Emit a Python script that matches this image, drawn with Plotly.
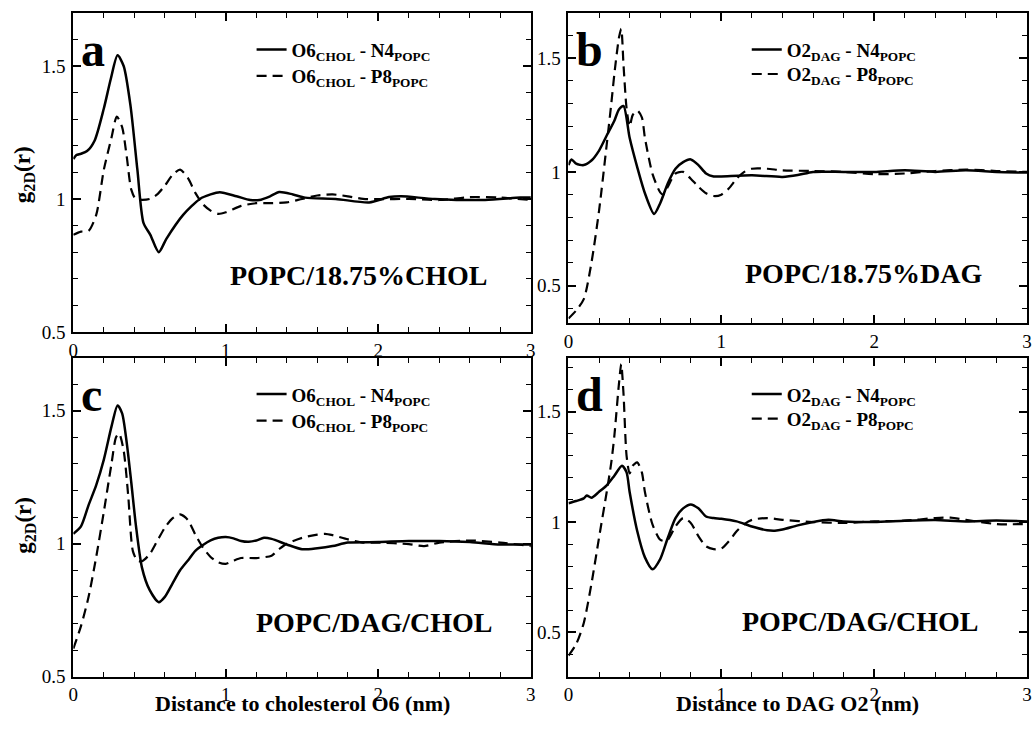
import plotly.graph_objects as go

# ---- g2D(r) data, read per panel ----
# Panel a: POPC/18.75%CHOL
r_a_n4 = [0.0, 0.02, 0.05, 0.09, 0.14, 0.2, 0.245, 0.29, 0.33, 0.375, 0.42, 0.46, 0.505, 0.56, 0.61,
          0.72, 0.83, 0.9, 0.96, 1.07, 1.16, 1.22, 1.29, 1.35, 1.44, 1.52, 1.72, 1.94, 2.07, 2.15,
          2.37, 2.7, 2.93, 3.0]
g_a_n4 = [1.15, 1.165, 1.17, 1.18, 1.22, 1.34, 1.45, 1.54, 1.5, 1.35, 1.11, 0.91, 0.865, 0.8, 0.85,
          0.94, 1.0, 1.017, 1.025, 1.01, 0.996, 0.996, 1.01, 1.026, 1.017, 1.005, 1.0, 0.987, 1.007,
          1.01, 1.0, 0.996, 1.005, 1.005]
r_a_p8 = [0.0, 0.05, 0.1, 0.15, 0.2, 0.25, 0.285, 0.32, 0.35, 0.38, 0.41, 0.5, 0.55, 0.6, 0.65,
          0.7, 0.75, 0.8, 0.85, 0.9, 0.95, 1.0, 1.1, 1.2, 1.3, 1.4, 1.5, 1.6, 1.7, 1.8, 1.9, 2.0,
          2.2, 2.4, 2.6, 2.8, 3.0]
g_a_p8 = [0.865, 0.877, 0.88, 0.94, 1.11, 1.23, 1.31, 1.27, 1.16, 1.035, 1.0, 1.0, 1.017, 1.05,
          1.09, 1.11, 1.08, 1.023, 0.98, 0.956, 0.944, 0.95, 0.974, 0.984, 0.984, 0.987, 1.0, 1.013,
          1.017, 1.01, 1.0, 0.999, 1.0, 0.996, 1.007, 1.005, 0.996]

# Panel b: POPC/18.75%DAG
r_b_n4 = [0.0, 0.02, 0.05, 0.1, 0.15, 0.2, 0.25, 0.3, 0.33, 0.36, 0.4, 0.45, 0.5, 0.56, 0.6, 0.65,
          0.7, 0.75, 0.8, 0.85, 0.9, 0.95, 1.0, 1.2, 1.4, 1.5, 1.6, 1.8, 2.0, 2.2, 2.4, 2.6, 2.8, 3.0]
g_b_n4 = [1.03, 1.055, 1.036, 1.03, 1.05, 1.094, 1.16, 1.225, 1.275, 1.29, 1.15, 1.02, 0.906, 0.815,
          0.862, 0.95, 1.014, 1.043, 1.055, 1.03, 0.993, 0.98, 0.98, 0.985, 0.978, 0.986, 1.0, 1.0,
          1.0, 1.007, 1.0, 1.007, 1.0, 0.997]
r_b_p8 = [0.0, 0.05, 0.1, 0.15, 0.2, 0.25, 0.28, 0.3, 0.33, 0.345, 0.36, 0.38, 0.4, 0.42, 0.45,
          0.48, 0.5, 0.55, 0.6, 0.62, 0.65, 0.7, 0.75, 0.8, 0.85, 0.9, 0.95, 1.0, 1.05, 1.1, 1.15,
          1.2, 1.3, 1.4, 1.6, 1.8, 2.0, 2.2, 2.4, 2.6, 2.8, 3.0]
g_b_p8 = [0.355, 0.39, 0.44, 0.6, 0.83, 1.12, 1.3, 1.43, 1.59, 1.63, 1.47, 1.28, 1.2, 1.25, 1.27,
          1.24, 1.15, 0.99, 0.91, 0.9, 0.935, 0.993, 1.0, 0.97, 0.935, 0.906, 0.894, 0.9, 0.928,
          0.97, 1.0, 1.014, 1.014, 1.007, 1.004, 1.0, 0.99, 0.993, 1.004, 1.01, 1.004, 1.0]

# Panel c: POPC/DAG/CHOL, cholesterol O6
r_c_n4 = [0.0, 0.05, 0.1, 0.15, 0.2, 0.25, 0.29, 0.32, 0.35, 0.38, 0.41, 0.45, 0.5, 0.56, 0.6, 0.65,
          0.7, 0.75, 0.8, 0.85, 0.9, 0.95, 1.0, 1.05, 1.1, 1.15, 1.2, 1.25, 1.3, 1.4, 1.5, 1.6, 1.7,
          1.8, 2.0, 2.2, 2.4, 2.6, 2.8, 3.0]
g_c_n4 = [1.037, 1.065, 1.145, 1.22, 1.316, 1.44, 1.52, 1.49, 1.38, 1.23, 1.07, 0.91, 0.826, 0.78,
          0.8, 0.85, 0.9, 0.936, 0.973, 0.995, 1.012, 1.022, 1.025, 1.02, 1.01, 1.007, 1.012, 1.022,
          1.018, 0.997, 0.979, 0.983, 0.991, 1.004, 1.006, 1.01, 1.01, 1.006, 0.997, 0.997]
r_c_p8 = [0.0, 0.05, 0.1, 0.15, 0.2, 0.25, 0.28, 0.3, 0.33, 0.36, 0.39, 0.42, 0.45, 0.5, 0.55, 0.6,
          0.65, 0.7, 0.75, 0.8, 0.85, 0.9, 0.95, 1.0, 1.05, 1.1, 1.2, 1.3, 1.35, 1.4, 1.5, 1.6, 1.65,
          1.7, 1.8, 1.9, 2.0, 2.2, 2.3, 2.4, 2.6, 2.8, 3.0]
g_c_p8 = [0.605, 0.69, 0.8, 0.95, 1.12, 1.3, 1.4, 1.414, 1.35, 1.18, 0.973, 0.936, 0.934, 0.96,
          1.01, 1.06, 1.095, 1.11, 1.09, 1.034, 0.985, 0.95, 0.93, 0.924, 0.936, 0.946, 0.946,
          0.955, 0.98, 1.0, 1.022, 1.034, 1.037, 1.032, 1.016, 1.004, 1.004, 0.998, 0.991, 1.004,
          1.012, 1.004, 0.991]

# Panel d: POPC/DAG/CHOL, DAG O2
r_d_n4 = [0.0, 0.05, 0.1, 0.12, 0.15, 0.2, 0.25, 0.3, 0.35, 0.38, 0.4, 0.45, 0.5, 0.55, 0.6, 0.65,
          0.7, 0.75, 0.8, 0.85, 0.9, 0.95, 1.0, 1.1, 1.2, 1.3, 1.35, 1.4, 1.5, 1.6, 1.7, 1.8, 2.0,
          2.2, 2.4, 2.6, 2.8, 3.0]
g_d_n4 = [1.085, 1.095, 1.107, 1.12, 1.11, 1.137, 1.166, 1.21, 1.255, 1.225, 1.136, 0.958, 0.84,
          0.786, 0.832, 0.929, 1.018, 1.062, 1.08, 1.062, 1.025, 1.018, 1.015, 1.003, 0.98, 0.963,
          0.961, 0.966, 0.985, 1.0, 1.01, 1.003, 1.0, 1.006, 1.009, 1.003, 1.007, 1.003]
r_d_p8 = [0.0, 0.05, 0.1, 0.15, 0.2, 0.25, 0.28, 0.3, 0.33, 0.345, 0.36, 0.38, 0.4, 0.42, 0.45,
          0.48, 0.5, 0.55, 0.6, 0.63, 0.65, 0.7, 0.75, 0.8, 0.85, 0.9, 0.95, 1.0, 1.05, 1.1, 1.15,
          1.2, 1.3, 1.4, 1.6, 1.8, 2.0, 2.2, 2.4, 2.5, 2.6, 2.8, 3.0]
g_d_p8 = [0.395, 0.447, 0.543, 0.72, 0.93, 1.136, 1.27, 1.39, 1.626, 1.715, 1.58, 1.3, 1.22, 1.255,
          1.27, 1.225, 1.136, 0.988, 0.92, 0.914, 0.92, 0.98, 1.018, 0.996, 0.936, 0.89, 0.877,
          0.88, 0.914, 0.958, 0.991, 1.01, 1.018, 1.01, 1.0, 0.996, 1.003, 1.006, 1.018, 1.02,
          1.01, 0.991, 0.991]

# Legend labels, panel captions and axis titles
names_chol = ["<b>O6<sub>CHOL</sub> - N4<sub>POPC</sub></b>", "<b>O6<sub>CHOL</sub> - P8<sub>POPC</sub></b>"]
names_dag = ["<b>O2<sub>DAG</sub> - N4<sub>POPC</sub></b>", "<b>O2<sub>DAG</sub> - P8<sub>POPC</sub></b>"]
panel_letters = ["a", "b", "c", "d"]
captions = ["POPC/18.75%CHOL", "POPC/18.75%DAG", "POPC/DAG/CHOL", "POPC/DAG/CHOL"]
xtitles = ["Distance to cholesterol O6 (nm)", "Distance to DAG O2 (nm)"]
ytitle = "g<sub>2D</sub>(r)"

W, H = 1034, 729
FONT = "Liberation Serif"

def px_x(p):
    return p / W

def px_y(p):
    return 1 - p / H

# panel frames in pixels: (left, right, top, bottom), y ranges
frames = [(69, 531, 13, 337), (569, 1032, 13, 328), (69, 531, 363, 687), (569, 1032, 363, 687)]
yranges = [[0.5, 1.7], [0.335, 1.7], [0.5, 1.7], [0.3, 1.745]]

series = [
    (r_a_n4, g_a_n4, r_a_p8, g_a_p8, names_chol),
    (r_b_n4, g_b_n4, r_b_p8, g_b_p8, names_dag),
    (r_c_n4, g_c_n4, r_c_p8, g_c_p8, names_chol),
    (r_d_n4, g_d_n4, r_d_p8, g_d_p8, names_dag),
]

fig = go.Figure()
layout = dict(
    width=W, height=H, margin=dict(l=0, r=0, t=0, b=0),
    paper_bgcolor="white", plot_bgcolor="white",
    font=dict(family=FONT, color="black"),
    annotations=[], showlegend=True,
)

axis_common = dict(
    showline=True, linecolor="black", linewidth=2, mirror="ticks",
    ticks="inside", ticklen=8, tickwidth=1.5, tickcolor="black",
    showgrid=False, zeroline=False,
    tickfont=dict(family=FONT, size=19, color="black"),
)

leg_n = 0
for i, (fr, yr, (xs1, ys1, xs2, ys2, nm)) in enumerate(zip(frames, yranges, series)):
    k = "" if i == 0 else str(i + 1)
    l, r, t, b = fr
    layout["xaxis" + k] = dict(axis_common, domain=[px_x(l), px_x(r)], range=[0, 3], dtick=1, tick0=0,
                               anchor="y" + k, ticklabelstandoff=0,
                               minor=dict(dtick=0.2, ticks="inside", ticklen=5, tickwidth=1.2, tickcolor="black"))
    layout["yaxis" + k] = dict(axis_common, domain=[px_y(b), px_y(t)], range=yr, dtick=0.5, tick0=0,
                               anchor="x" + k, ticklabelstandoff=2,
                               minor=dict(dtick=0.1, ticks="inside", ticklen=5, tickwidth=1.2, tickcolor="black"))
    styles = [dict(color="black", width=2.5, shape="spline", smoothing=0.7),
              dict(color="black", width=2.2, dash="10px,6px", shape="spline", smoothing=0.7)]
    offsets = [18, 45 if i in (0, 2) else 43]
    for xs, ys, name, st, off in zip((xs1, xs2), (ys1, ys2), nm, styles, offsets):
        leg_n += 1
        leg = "legend" if leg_n == 1 else "legend%d" % leg_n
        fig.add_trace(go.Scatter(x=xs, y=ys, mode="lines", name=name, legend=leg,
                                 xaxis="x" + k, yaxis="y" + k, line=st))
        layout[leg] = dict(x=px_x(l + 180), y=px_y(t + off), xanchor="left", yanchor="top",
                           bgcolor="rgba(0,0,0,0)", font=dict(family=FONT, size=19, color="black"),
                           itemwidth=30)
    # panel letter
    layout["annotations"].append(dict(text="<b>%s</b>" % panel_letters[i], x=px_x(l + 6), y=px_y(t + 66),
                                      xref="paper", yref="paper", xanchor="left", yanchor="bottom",
                                      showarrow=False, font=dict(family=FONT, size=48)))
    # caption
    cx = [357, 867, 373, 863][i]
    cy = [290, 288, 643, 642][i]
    layout["annotations"].append(dict(text="<b>%s</b>" % captions[i], x=px_x(cx), y=px_y(cy + 7),
                                      xref="paper", yref="paper", xanchor="center", yanchor="bottom",
                                      showarrow=False, font=dict(family=FONT, size=28)))
    # y-axis title on left panels
    if i in (0, 2):
        ty = (t + b) / 2 + (2 if i == 0 else 8)
        layout["annotations"].append(dict(text="<b>%s</b>" % ytitle, x=px_x(20), y=px_y(ty),
                                          xref="paper", yref="paper", xanchor="center", yanchor="middle",
                                          textangle=-90, showarrow=False, font=dict(family=FONT, size=23)))
    # x-axis titles under bottom panels
    if i in (2, 3):
        layout["annotations"].append(dict(text="<b>%s</b>" % xtitles[i - 2], x=px_x((l + r) / 2), y=0,
                                          xref="paper", yref="paper", xanchor="center", yanchor="bottom",
                                          showarrow=False, font=dict(family=FONT, size=22)))

fig.update_layout(**layout)
fig.write_html("out.html")
